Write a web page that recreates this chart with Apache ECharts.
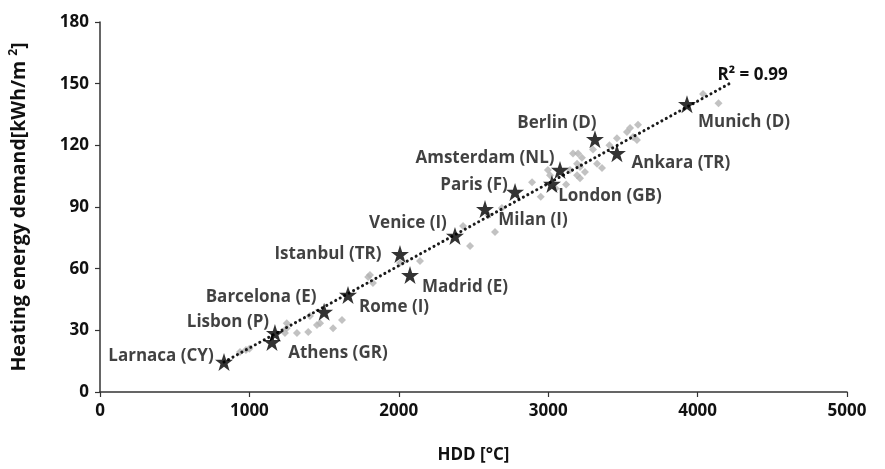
<!DOCTYPE html>
<html>
<head>
<meta charset="utf-8">
<script src="https://cdn.jsdelivr.net/npm/echarts@6/dist/echarts.min.js"></script>
<style>
  html, body { margin: 0; padding: 0; background: #fff; }
  #chart { width: 885px; height: 469px; }
</style>
</head>
<body>
<div id="chart"></div>
<script>
// Selected cities: heating degree days and heating energy demand
const cityNames = ['Larnaca (CY)', 'Athens (GR)', 'Lisbon (P)', 'Barcelona (E)', 'Rome (I)',
  'Istanbul (TR)', 'Madrid (E)', 'Venice (I)', 'Milan (I)', 'Paris (F)', 'London (GB)',
  'Amsterdam (NL)', 'Berlin (D)', 'Ankara (TR)', 'Munich (D)'];
const cityHDD = [830, 1151, 1171, 1500, 1660, 2008, 2075, 2376, 2577, 2778, 3025, 3079, 3313, 3460, 3929];
const cityDemand = [14.6, 24.3, 28.7, 39, 47.2, 67.1, 56.9, 75.9, 89, 97.3, 101.2, 108, 123, 116.2, 140];

// Remaining locations of the sample
const otherHDD = [937, 977, 1000, 1238, 1250, 1318, 1394, 1405, 1452, 1473, 1620, 1250, 1560,
  1795, 1807, 1827, 2008, 2142, 2430, 2477, 2644, 2690, 2600, 2892, 2998, 3012, 3050, 3146, 3166,
  3193, 3193, 3200, 3213, 3213, 3226, 3246, 3327, 3360, 3410, 3460, 3527, 3548, 3568, 3594, 3601,
  3300, 3120, 2950, 4036, 4140];
const otherDemand = [19.5, 20.4, 21, 28.7, 33.5, 28.7, 29.2, 37, 32.6, 33.5, 35, 31, 31,
  56, 56.9, 53, 62.7, 63.7, 80.7, 71, 77.8, 89.5, 86, 102, 108, 105.5, 99, 108, 116,
  111, 105.5, 116, 104, 109.5, 114, 107, 111, 109, 120, 123.5, 126.5, 128.4, 124, 122.6, 130,
  118, 101, 95, 145, 140.5];

// Linear trend line end points and fit quality
const trendHDD = [830, 4220];
const trendDemand = [14.6, 150.3];
const rSquaredText = 'R² = 0.99';

// Axis ranges
const xTicks = { min: 0, max: 5000, step: 1000 };
const yTicks = { min: 0, max: 180, step: 30 };

// Label placement around each star (text centre relative to the star, px)
const labelOffsets = {
  'Larnaca (CY)': [-63, -6], 'Athens (GR)': [66, 11], 'Lisbon (P)': [-47, -11],
  'Barcelona (E)': [-63, -15], 'Rome (I)': [46, 12], 'Istanbul (TR)': [-72, 0],
  'Madrid (E)': [55, 12], 'Venice (I)': [-47, -13], 'Milan (I)': [48, 11],
  'Paris (F)': [-41, -7], 'London (GB)': [58, 12], 'Amsterdam (NL)': [-75, -12],
  'Berlin (D)': [-38, -16], 'Ankara (TR)': [64, 10], 'Munich (D)': [57, 18]
};

const STAR = 'path://M50,0 L61.8,35.4 L99,35.4 L69,57.3 L80.4,92.7 L50,70.8 L19.6,92.7 L31,57.3 L1,35.4 L38.2,35.4 Z';
const FONT = '"Open Sans", "Noto Sans", sans-serif';
const TEXT = '#111';

const starData = cityNames.map((n, i) => ({
  name: n,
  value: [cityHDD[i], cityDemand[i]],
  label: {
    show: true,
    formatter: n,
    position: 'inside',
    align: 'center',
    verticalAlign: 'middle',
    offset: labelOffsets[n],
    color: TEXT,
    fontFamily: FONT,
    fontWeight: 'bold',
    fontSize: 17
  }
}));

const otherData = otherHDD.map((x, i) => [x, otherDemand[i]]);
const trendData = trendHDD.map((x, i) => [x, trendDemand[i]]);

const chart = echarts.init(document.getElementById('chart'), null, { renderer: 'canvas' });

const axisCommon = {
  axisLine: { show: true, lineStyle: { color: '#333', width: 1.5 } },
  axisTick: { show: true, inside: false, length: 5, lineStyle: { color: '#333', width: 1.2 } },
  splitLine: { show: false },
  axisLabel: {
    color: TEXT, fontFamily: FONT, fontSize: 17, fontWeight: 'bold', margin: 11,
    formatter: v => String(v)
  }
};

chart.setOption({
  animation: false,
  backgroundColor: '#fff',
  grid: { left: 100, right: 38, top: 22, bottom: 77, containLabel: false },
  xAxis: Object.assign({}, axisCommon, {
    type: 'value',
    min: xTicks.min, max: xTicks.max, interval: xTicks.step,
    name: 'HDD [°C]',
    nameLocation: 'middle',
    nameGap: 55,
    nameTextStyle: { color: TEXT, fontFamily: FONT, fontSize: 17, fontWeight: 'bold' }
  }),
  yAxis: Object.assign({}, axisCommon, {
    type: 'value',
    min: yTicks.min, max: yTicks.max, interval: yTicks.step,
    name: '{a|Heating energy demand[kWh/m }{s|2}{a|]}',
    nameLocation: 'middle',
    nameGap: 70,
    nameTextStyle: {
      rich: {
        a: { color: TEXT, fontFamily: FONT, fontSize: 19.5, fontWeight: 'bold', lineHeight: 22 },
        s: { color: TEXT, fontFamily: FONT, fontSize: 12, fontWeight: 'bold', lineHeight: 22, verticalAlign: 'top', padding: [0, 0, 9, 0] }
      }
    }
  }),
  series: [
    {
      type: 'scatter',
      name: 'others',
      data: otherData,
      symbol: 'diamond',
      symbolSize: 8,
      itemStyle: { color: '#b3b3b3' },
      z: 2
    },
    {
      type: 'line',
      name: 'trend',
      data: trendData,
      showSymbol: false,
      symbol: 'none',
      lineStyle: { color: '#1a1a1a', width: 3, type: [0.1, 5], cap: 'round' },
      endLabel: {
        show: true,
        formatter: rSquaredText,
        color: TEXT,
        fontFamily: FONT,
        fontSize: 17,
        fontWeight: 'bold',
        offset: [-21, -8]
      },
      z: 3
    },
    {
      type: 'scatter',
      name: 'cities',
      data: starData,
      symbol: STAR,
      symbolSize: 18,
      itemStyle: { color: '#000' },
      z: 4
    }
  ]
});
</script>
</body>
</html>
